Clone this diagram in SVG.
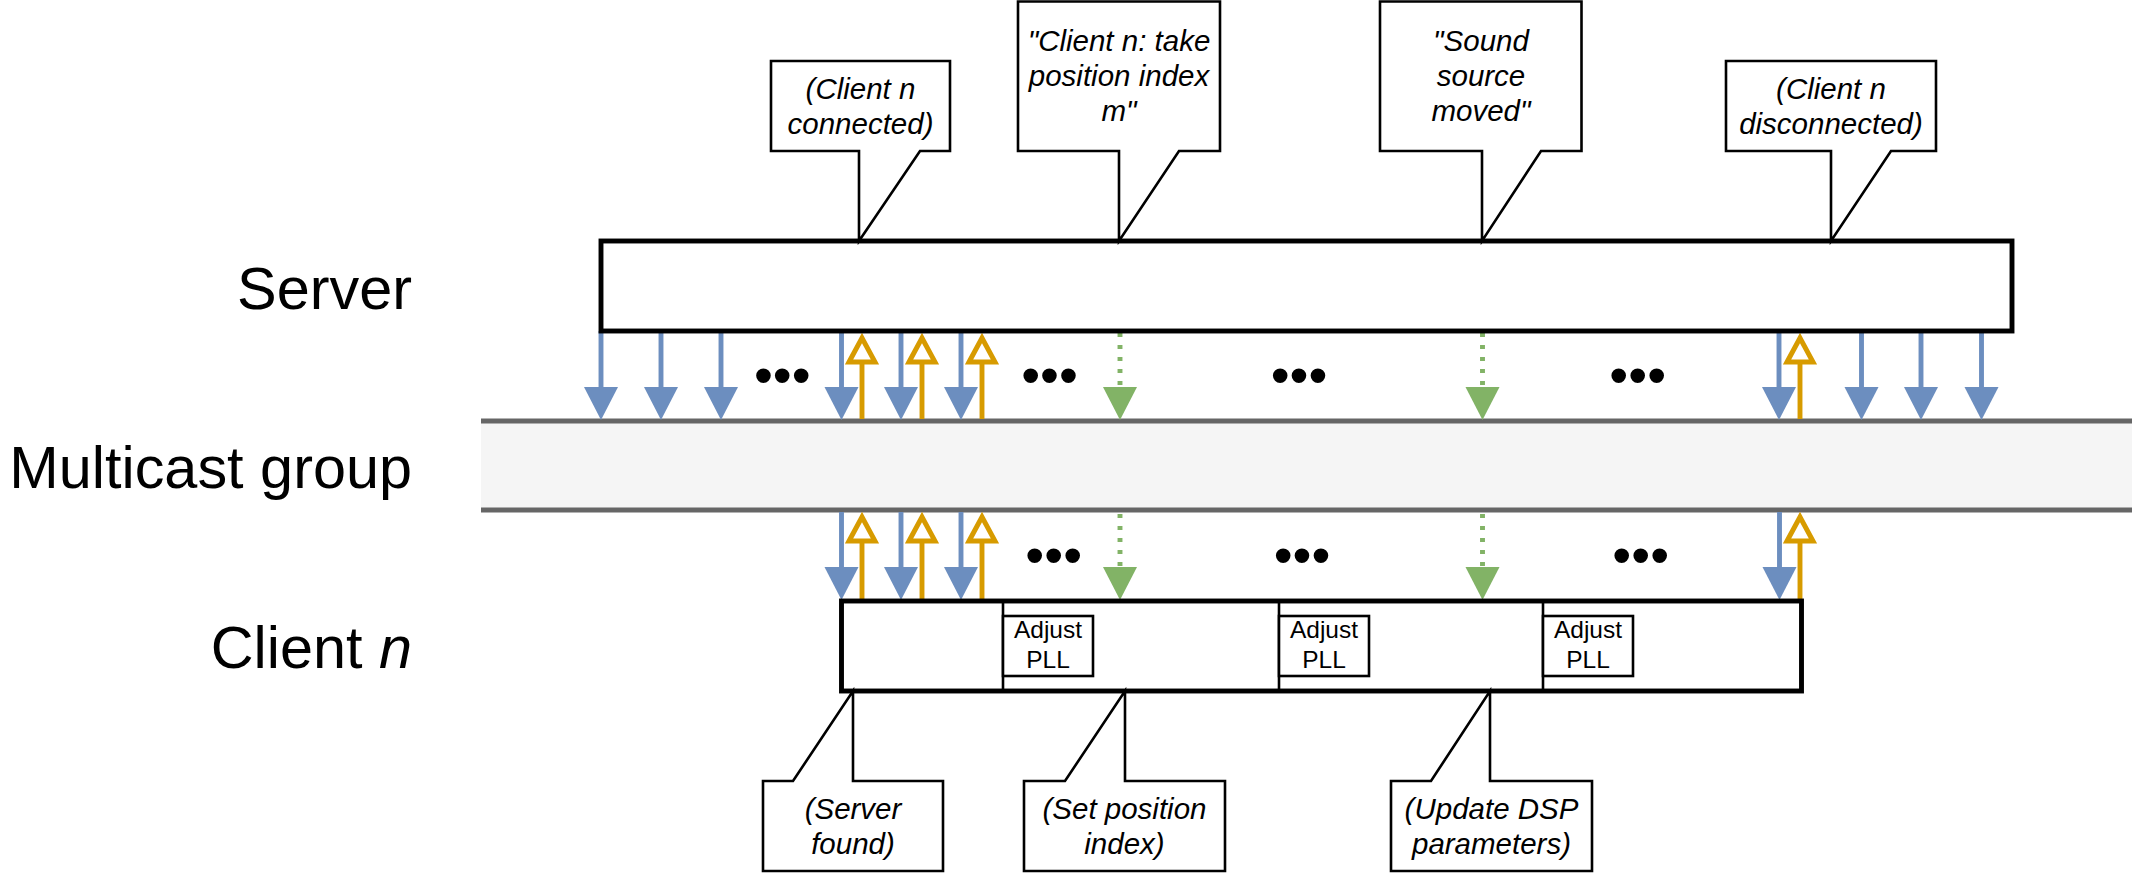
<svg xmlns="http://www.w3.org/2000/svg" width="2136" height="873" viewBox="0 0 2136 873">
<style>
  text { font-family: "Liberation Sans", Arial, sans-serif; fill: #000; }
  .lbl { font-size: 59.4px; text-anchor: end; }
  .co { font-size: 29.5px; font-style: italic; text-anchor: middle; }
  .pll { font-size: 24.5px; text-anchor: middle; }
  .dots { font-size: 54px; text-anchor: middle; }
  .thick { fill: #fff; stroke: #000; stroke-width: 4.9; }
  .thin { fill: #fff; stroke: #000; stroke-width: 2.6; stroke-linejoin: miter; }
  .div { stroke: #000; stroke-width: 2.6; }
  .band { fill: #f5f5f5; stroke: none; }
  .bandline { stroke: #666; stroke-width: 4.9; }
  .blue { stroke: #6c8ebf; stroke-width: 4.9; fill: none; marker-end: url(#mBlue); }
  .green { stroke: #82b366; stroke-width: 4.9; fill: none; stroke-dasharray: 4 8; marker-end: url(#mGreen); }
  .orange { stroke: #d79b00; stroke-width: 4.9; fill: none; marker-end: url(#mOrange); }
</style>
<defs>
  <marker id="mBlue" markerUnits="userSpaceOnUse" markerWidth="40" markerHeight="40" refX="4" refY="17" orient="auto" overflow="visible">
    <path d="M0,0 L33,17 L0,34 z" fill="#6c8ebf"/>
  </marker>
  <marker id="mGreen" markerUnits="userSpaceOnUse" markerWidth="40" markerHeight="40" refX="4" refY="17" orient="auto" overflow="visible">
    <path d="M0,0 L33,17 L0,34 z" fill="#82b366"/>
  </marker>
  <marker id="mOrange" markerUnits="userSpaceOnUse" markerWidth="40" markerHeight="40" refX="0" refY="13" orient="auto" overflow="visible">
    <path d="M0,0 L24,13 L0,26 z" fill="#fff" stroke="#d79b00" stroke-width="4.9"/>
  </marker>
</defs>
<rect width="2136" height="873" fill="#fff"/>

<g id="labels">
  <text class="lbl" x="412" y="309">Server</text>
  <text class="lbl" x="412" y="488">Multicast group</text>
  <text class="lbl" x="412" y="668">Client <tspan font-style="italic">n</tspan></text>
</g>

<g id="multicast">
  <rect class="band" x="481" y="421" width="1651" height="89"/>
  <line class="bandline" x1="481" y1="421" x2="2132" y2="421"/>
  <line class="bandline" x1="481" y1="510" x2="2132" y2="510"/>
</g>

<g id="connectors">
  <line class="blue" x1="601" y1="331" x2="601" y2="391"/>
  <line class="blue" x1="661" y1="331" x2="661" y2="391"/>
  <line class="blue" x1="721" y1="331" x2="721" y2="391"/>
  <line class="blue" x1="841.5" y1="331" x2="841.5" y2="391"/>
  <line class="blue" x1="901" y1="331" x2="901" y2="391"/>
  <line class="blue" x1="961" y1="331" x2="961" y2="391"/>
  <line class="blue" x1="1779" y1="331" x2="1779" y2="391"/>
  <line class="blue" x1="1861.5" y1="331" x2="1861.5" y2="391"/>
  <line class="blue" x1="1921" y1="331" x2="1921" y2="391"/>
  <line class="blue" x1="1981.5" y1="331" x2="1981.5" y2="391"/>
  <line class="green" x1="1120" y1="333" x2="1120" y2="391"/>
  <line class="green" x1="1482.5" y1="333" x2="1482.5" y2="391"/>
  <line class="orange" x1="862" y1="419" x2="862" y2="362"/>
  <line class="orange" x1="922" y1="419" x2="922" y2="362"/>
  <line class="orange" x1="982" y1="419" x2="982" y2="362"/>
  <line class="orange" x1="1800" y1="419" x2="1800" y2="362"/>
  <line class="blue" x1="841.5" y1="512" x2="841.5" y2="571"/>
  <line class="blue" x1="901" y1="512" x2="901" y2="571"/>
  <line class="blue" x1="961" y1="512" x2="961" y2="571"/>
  <line class="blue" x1="1779.5" y1="512" x2="1779.5" y2="571"/>
  <line class="green" x1="1120" y1="514" x2="1120" y2="571"/>
  <line class="green" x1="1482.5" y1="514" x2="1482.5" y2="571"/>
  <line class="orange" x1="862" y1="601" x2="862" y2="541"/>
  <line class="orange" x1="922" y1="601" x2="922" y2="541"/>
  <line class="orange" x1="982" y1="601" x2="982" y2="541"/>
  <line class="orange" x1="1800" y1="601" x2="1800" y2="541"/>
</g>

<g id="ellipses">
  <text class="dots" x="782.3" y="394">•••</text>
  <text class="dots" x="1049.5" y="394">•••</text>
  <text class="dots" x="1299" y="394">•••</text>
  <text class="dots" x="1637.7" y="394">•••</text>
  <text class="dots" x="1053.7" y="574">•••</text>
  <text class="dots" x="1302" y="574">•••</text>
  <text class="dots" x="1640.7" y="574">•••</text>
</g>

<g id="server">
  <rect class="thick" x="601" y="241" width="1411" height="90"/>
</g>

<g id="client">
  <rect class="thick" x="841.5" y="601" width="960" height="90"/>
  <line class="div" x1="1003" y1="601" x2="1003" y2="691"/>
  <line class="div" x1="1279" y1="601" x2="1279" y2="691"/>
  <line class="div" x1="1543" y1="601" x2="1543" y2="691"/>
</g>

<g id="pll1">
  <rect class="thin" x="1003" y="616" width="90" height="60"/>
  <text class="pll" x="1048" y="638">Adjust</text>
  <text class="pll" x="1048" y="668">PLL</text>
</g>
<g id="pll2">
  <rect class="thin" x="1279" y="616" width="90" height="60"/>
  <text class="pll" x="1324" y="638">Adjust</text>
  <text class="pll" x="1324" y="668">PLL</text>
</g>
<g id="pll3">
  <rect class="thin" x="1543" y="616" width="90" height="60"/>
  <text class="pll" x="1588" y="638">Adjust</text>
  <text class="pll" x="1588" y="668">PLL</text>
</g>

<g id="callout-connected">
  <polygon class="thin" points="771,61 950,61 950,151 920,151 859,241 859,151 771,151"/>
  <text class="co" x="860.5" y="99">(Client n</text>
  <text class="co" x="860.5" y="134">connected)</text>
</g>
<g id="callout-take-position">
  <polygon class="thin" points="1018,1.5 1220,1.5 1220,151 1179,151 1119,241 1119,151 1018,151"/>
  <text class="co" x="1119" y="51">"Client n: take</text>
  <text class="co" x="1119" y="86">position index</text>
  <text class="co" x="1119" y="121">m"</text>
</g>
<g id="callout-sound-moved">
  <polygon class="thin" points="1380,1.5 1581.5,1.5 1581.5,151 1541,151 1482,241 1482,151 1380,151"/>
  <text class="co" x="1481" y="51">"Sound</text>
  <text class="co" x="1481" y="86">source</text>
  <text class="co" x="1481" y="121">moved"</text>
</g>
<g id="callout-disconnected">
  <polygon class="thin" points="1726,61 1936,61 1936,151 1891,151 1831,241 1831,151 1726,151"/>
  <text class="co" x="1831" y="99">(Client n</text>
  <text class="co" x="1831" y="134">disconnected)</text>
</g>
<g id="callout-server-found">
  <polygon class="thin" points="763,781 793,781 853,691 853,781 943,781 943,871 763,871"/>
  <text class="co" x="853" y="819">(Server</text>
  <text class="co" x="853" y="854">found)</text>
</g>
<g id="callout-set-position">
  <polygon class="thin" points="1024,781 1065,781 1125,691 1125,781 1225,781 1225,871 1024,871"/>
  <text class="co" x="1124.5" y="819">(Set position</text>
  <text class="co" x="1124.5" y="854">index)</text>
</g>
<g id="callout-update-dsp">
  <polygon class="thin" points="1391,781 1431,781 1490,691 1490,781 1592,781 1592,871 1391,871"/>
  <text class="co" x="1491.5" y="819">(Update DSP</text>
  <text class="co" x="1491.5" y="854">parameters)</text>
</g>
</svg>
